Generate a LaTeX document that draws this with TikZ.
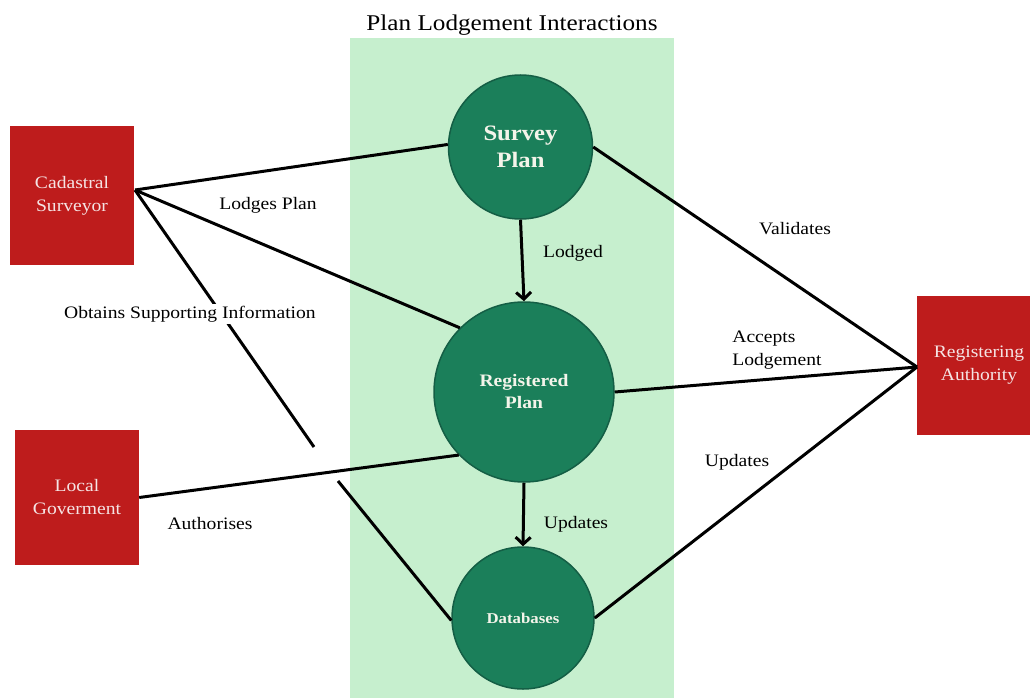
\documentclass[tikz,border=0pt]{standalone}
\usepackage{fontspec}
\setmainfont{Liberation Serif}[FakeStretch=1.12]
\usetikzlibrary{arrows.meta}
\definecolor{boxred}{HTML}{BE1C1C}
\definecolor{boxtext}{HTML}{F5E4E4}
\definecolor{circfill}{HTML}{1B7F5A}
\definecolor{circline}{HTML}{145E45}
\definecolor{band}{HTML}{C6EFCE}
\definecolor{circtext}{HTML}{F4F4EA}
\tikzset{
  rbox/.style={fill=boxred, text=boxtext, align=center, inner sep=0pt,
    minimum width=124pt, font=\fontsize{17.5}{23}\selectfont},
  circ/.style={circle, fill=circfill, draw=circline, line width=1.5pt,
    text=circtext, align=center, inner sep=0pt},
  conn/.style={line width=3pt, black},
  arr/.style={line width=3pt, black, -{Straight Barb[length=7pt,width=15pt]}},
  lbl/.style={font=\fontsize{17.5}{23}\selectfont, inner sep=1pt}
}
\begin{document}
\begin{tikzpicture}[x=1pt,y=-1pt]
\useasboundingbox (0,0) rectangle (1030,698);
\clip (0,0) rectangle (1030,698);
\fill[band] (350,38) rectangle (674,698);
\node[font=\fontsize{22.5}{27}\selectfont] (title) at (512,25) {Plan Lodgement Interactions};

\node[rbox, minimum height=139pt] (cs) at (72,195.5) {Cadastral\\Surveyor};
\node[rbox, minimum height=135pt] (lg) at (77,497.5) {Local\\Goverment};
\node[rbox, minimum height=139pt] (ra) at (979,365.5) {Registering\\Authority};

\node[circ, minimum size=144pt, font=\bfseries\fontsize{22}{27}\selectfont] (sp) at (520.5,147) {Survey\\Plan};
\node[circ, minimum size=180pt, font=\bfseries\fontsize{17.5}{22}\selectfont] (rp) at (524,392) {Registered\\Plan};
\node[circ, minimum size=142pt, font=\bfseries\fontsize{15}{18}\selectfont] (db) at (523,618) {Databases};

\coordinate (csA) at (135,190);
\coordinate (raA) at (917,367);
\coordinate (c1) at (314,447);
\coordinate (c2) at (338,481);

\draw[conn] (csA) -- (sp.178);
\draw[conn] (csA) -- (rp.135);
\draw[conn] (csA) -- (c1);
\draw[conn] (c2) -- (db.182);
\draw[conn] (lg.east) -- (rp.224);
\draw[conn] (sp.east) -- (raA);
\draw[conn] (rp.east) -- (raA);
\draw[conn] (db.east) -- (raA);
\draw[arr] (sp.south) -- (rp.north);
\draw[arr] (rp.south) -- (db.north);

\node[lbl] (l1) at (268,205) {Lodges Plan};
\node[lbl, fill=white, inner ysep=2pt] (l2) at (190,314) {Obtains Supporting Information};
\node[lbl] (l3) at (573,253) {Lodged};
\node[lbl] (l4) at (795,229) {Validates};
\node[lbl, align=left] (l5) at (777,350) {Accepts\\Lodgement};
\node[lbl] (l6) at (737,462) {Updates};
\node[lbl] (l7) at (576,524) {Updates};
\node[lbl] (l8) at (210,524) {Authorises};
\end{tikzpicture}
\end{document}
